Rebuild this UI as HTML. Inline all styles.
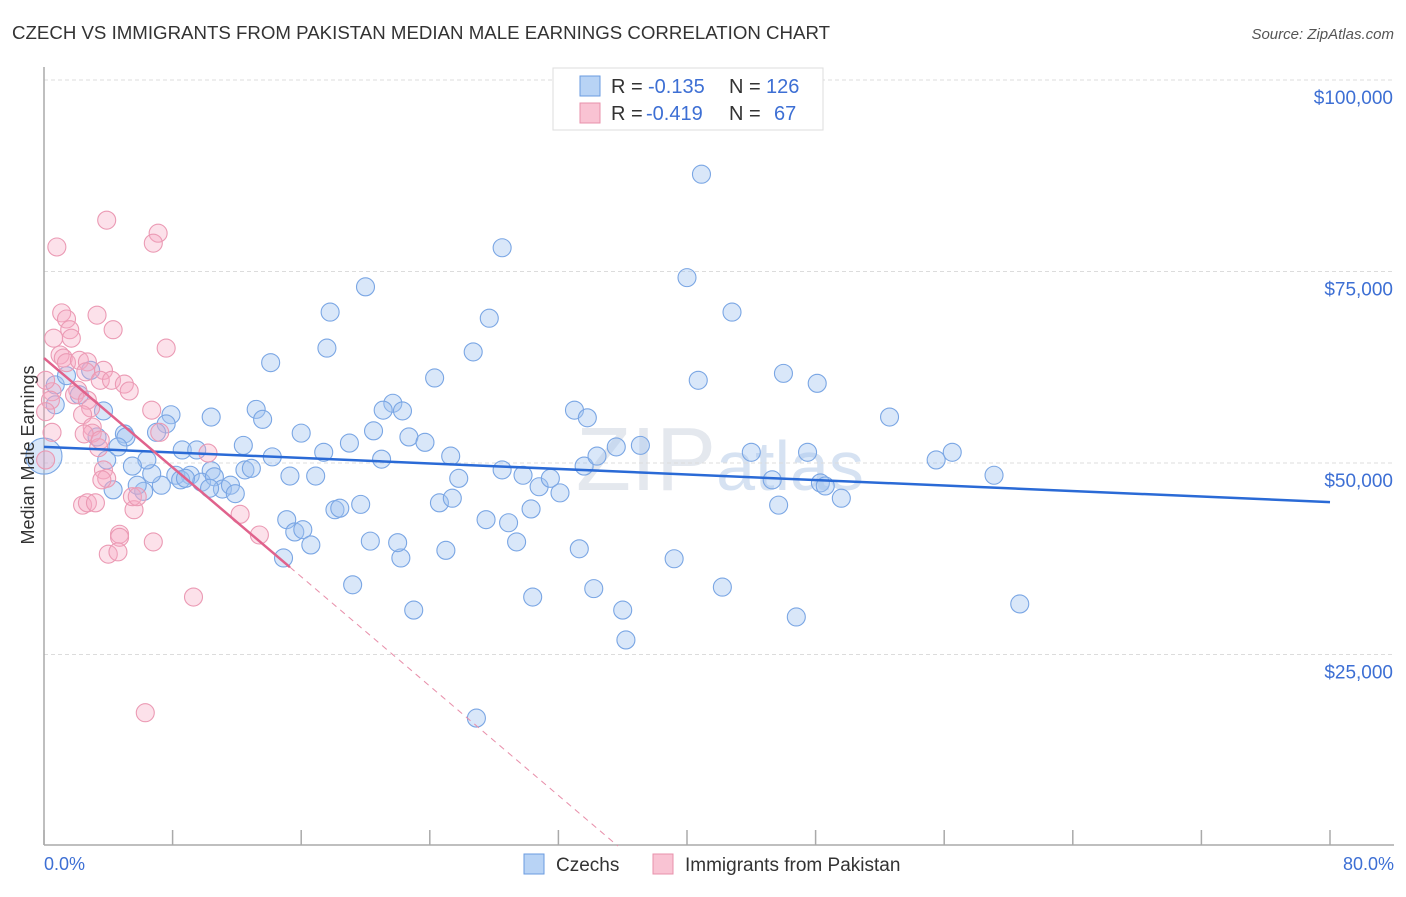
<!DOCTYPE html>
<html><head><meta charset="utf-8"><style>
body{margin:0;background:#fff;font-family:"Liberation Sans",sans-serif;}
svg text{font-family:"Liberation Sans",sans-serif;}
</style></head><body>
<svg id="chart" width="1406" height="892" xmlns="http://www.w3.org/2000/svg">
<text x="12" y="39" font-size="18" fill="#333" textLength="818" lengthAdjust="spacingAndGlyphs">CZECH VS IMMIGRANTS FROM PAKISTAN MEDIAN MALE EARNINGS CORRELATION CHART</text>
<text x="1394" y="39" font-size="15" fill="#555" text-anchor="end" font-style="italic">Source: ZipAtlas.com</text>
<text x="720" y="490" font-size="90" fill="#e4e8ee" text-anchor="middle" font-family="Liberation Serif">ZIP<tspan font-family="Liberation Sans" font-size="70" fill="#d6e2f2">atlas</tspan></text>
<g id="grid"></g><g id="axes"></g><g id="marks"></g>
<text transform="translate(34,455) rotate(-90)" font-size="18" fill="#333" text-anchor="middle">Median Male Earnings</text>
<text x="44" y="870" font-size="18" fill="#3d6fd4">0.0%</text>
<text x="1394" y="870" font-size="18" fill="#3d6fd4" text-anchor="end">80.0%</text>
<g>
<rect x="553" y="68" width="270" height="62" fill="#fff" stroke="#ddd"/>
<rect x="580" y="76" width="20" height="20" fill="#b8d3f5" stroke="#6a9be0"/>
<rect x="580" y="103" width="20" height="20" fill="#f9c3d3" stroke="#e890ab"/>
<text x="611" y="93" font-size="20" fill="#333">R =</text>
<text x="648" y="93" font-size="20" fill="#3d6fd4">-0.135</text>
<text x="729" y="93" font-size="20" fill="#333">N =</text>
<text x="766" y="93" font-size="20" fill="#3d6fd4">126</text>
<text x="611" y="120" font-size="20" fill="#333">R =</text>
<text x="646" y="120" font-size="20" fill="#3d6fd4">-0.419</text>
<text x="729" y="120" font-size="20" fill="#333">N =</text>
<text x="774" y="120" font-size="20" fill="#3d6fd4">67</text>
</g>
<g>
<rect x="524" y="854" width="20" height="20" fill="#b8d3f5" stroke="#6a9be0"/>
<text x="556" y="871" font-size="19" fill="#333">Czechs</text>
<rect x="653" y="854" width="20" height="20" fill="#f9c3d3" stroke="#e890ab"/>
<text x="685" y="871" font-size="19" fill="#333">Immigrants from Pakistan</text>
</g>
</svg>
<script>
const yTicks=[25000,50000,75000,100000];
const yTickLabels=["$25,000","$50,000","$75,000","$100,000"];
const xTicks=[0,8,16,24,32,40,48,56,64,72,80];
const czechX=[40.9,40.0,28.5,20.0,17.8,27.7,42.8,17.6,14.1,26.7,24.3,40.7,46.0,48.1,52.6,56.5,55.5,59.1,60.7,46.8,42.2,39.2,36.2,36.0,34.2,33.3,30.4,26.9,23.0,22.2,19.2,25.0,27.5,28.9,29.4,30.3,24.6,25.4,25.8,28.5,29.8,30.8,31.5,32.1,33.0,33.8,33.6,34.4,35.6,37.1,44.0,45.3,47.5,48.3,48.6,49.6,45.7,21.7,22.3,21.1,20.5,19.0,21.0,22.7,23.7,25.3,16.0,17.4,15.3,16.9,12.4,12.5,14.2,12.9,13.2,13.6,10.4,7.9,7.6,7.0,8.6,9.5,10.4,9.1,8.2,8.5,9.8,10.6,11.1,11.6,11.9,10.3,8.8,7.3,6.2,5.8,4.3,6.7,6.4,5.5,3.9,5.0,5.1,4.6,3.3,3.7,2.2,0.7,0.7,1.4,2.9,15.1,15.6,16.1,16.6,14.9,18.1,18.4,19.7,20.3,22.0,0.0];
const czechY=[87.7,74.2,78.1,73.0,69.7,68.9,69.7,65.0,63.1,64.5,61.1,60.8,61.7,60.4,56.0,51.4,50.4,48.4,31.6,29.9,33.8,37.5,26.9,30.8,33.6,38.8,32.5,16.7,30.8,37.6,34.1,38.6,42.6,42.2,39.7,44.0,44.8,45.4,48.0,49.1,48.4,46.9,48.0,46.1,56.9,55.9,49.6,50.9,52.1,52.3,51.4,47.8,51.4,47.4,47.0,45.4,44.5,57.8,56.8,56.9,54.2,52.6,50.5,53.4,52.7,50.9,53.9,51.4,48.3,48.3,52.3,49.1,50.8,49.3,57.0,55.7,56.0,56.3,55.1,54.0,51.7,51.7,49.0,48.4,48.4,47.8,47.5,48.2,46.6,47.1,46.0,46.7,48.0,47.1,46.3,47.1,46.5,48.6,50.4,49.6,50.4,53.8,53.4,52.1,53.4,56.8,58.9,57.6,60.2,61.4,62.1,42.6,41.0,41.3,39.3,37.6,43.9,44.1,44.6,39.8,39.6,50.9];
const pakX=[0.8,3.9,7.1,6.8,1.1,1.4,3.3,4.3,7.6,0.6,1.6,1.7,1.0,1.2,1.4,2.2,2.7,2.6,3.7,3.5,4.2,5.0,5.3,2.1,1.9,0.5,0.4,0.1,2.7,2.9,2.4,6.7,3.0,3.0,3.4,2.5,3.5,7.2,10.2,3.7,3.9,3.6,2.4,2.7,3.2,5.6,5.5,5.8,6.8,4.7,4.7,4.0,4.6,9.3,6.3,12.2,13.4,0.1,0.5,0.1];
const pakY=[78.2,81.7,80.0,78.7,69.6,68.8,69.3,67.4,65.0,66.3,67.4,66.3,64.1,63.7,63.1,63.4,63.2,61.9,62.1,60.8,60.8,60.3,59.4,59.5,58.9,59.3,58.2,56.7,58.2,57.2,56.3,56.9,54.7,53.9,52.0,53.8,53.0,54.0,51.3,49.1,48.0,47.8,44.5,44.8,44.8,43.9,45.6,45.6,39.7,40.7,40.3,38.1,38.4,32.5,17.4,43.3,40.6,50.4,54.0,60.8];
const czechTrend=[52.1,44.9];
const pakTrend=[63.7,36.4];
const pakTrendEndX=15.3;
const X=v=>44+v*(1286/80);
const Y=v=>80+(100-v)*7.66; // v in thousands
const NS="http://www.w3.org/2000/svg";
function mk(tag,attrs,parent){const e=document.createElementNS(NS,tag);for(const k in attrs)e.setAttribute(k,attrs[k]);parent.appendChild(e);return e;}
const grid=document.getElementById('grid'),axes=document.getElementById('axes'),marks=document.getElementById('marks');
yTicks.forEach((t,i)=>{
 const l=mk('line',{x1:44,x2:1394,y1:Y(t/1000),y2:Y(t/1000),stroke:'#dcdcdc','stroke-dasharray':'4,3'},grid);
 
 
 const tx=mk('text',{x:1393,y:Y(t/1000)+24,'font-size':19,fill:'#3d6fd4','text-anchor':'end'},grid);
 tx.textContent=yTickLabels[i];
 
 
});
const ya=mk('line',{x1:44,x2:44,y1:67,y2:845,stroke:'#aaa','stroke-width':1.5},axes);


const xa=mk('line',{x1:44,x2:1394,y1:845,y2:845,stroke:'#aaa','stroke-width':1.5},axes);


xTicks.forEach(t=>{
 const l=mk('line',{x1:X(t),x2:X(t),y1:830,y2:845,stroke:'#aaa','stroke-width':1.5},axes);
 
 
});
czechX.forEach((x,i)=>{
 const big=(i===czechX.length-1);
 const c=mk('circle',{cx:X(x),cy:Y(czechY[i]),r:big?18:9,fill:'rgba(160,195,240,0.4)',stroke:'#7aa6e4','stroke-width':1.1},marks);
 
 
});
pakX.forEach((x,i)=>{
 const c=mk('circle',{cx:X(x),cy:Y(pakY[i]),r:9,fill:'rgba(245,170,195,0.35)',stroke:'#eb9ab4','stroke-width':1.1},marks);
 
 
});
const bt=mk('line',{x1:X(0),y1:Y(czechTrend[0]),x2:X(80),y2:Y(czechTrend[1]),stroke:'#2a6ad6','stroke-width':2.5},marks);


const slope=(pakTrend[1]-pakTrend[0])/pakTrendEndX;
const zeroX=-pakTrend[0]/slope;
const pd=mk('line',{x1:X(pakTrendEndX),y1:Y(pakTrend[1]),x2:X(zeroX),y2:Y(0),stroke:'#e890ab','stroke-width':1,'stroke-dasharray':'6,5'},marks);


const pt=mk('line',{x1:X(0),y1:Y(pakTrend[0]),x2:X(pakTrendEndX),y2:Y(pakTrend[1]),stroke:'#e0628c','stroke-width':2.5},marks);


</script>
</body></html>
